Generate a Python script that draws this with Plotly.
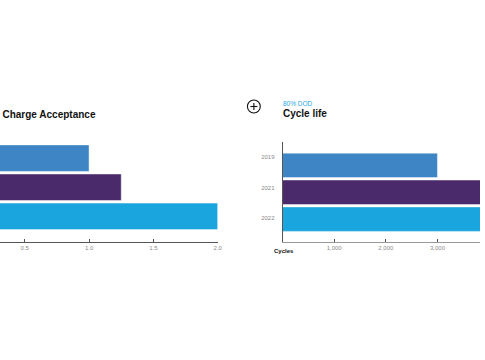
import plotly.graph_objects as go

years = ["2019", "2021", "2022"]
dca_values = [1.0, 1.25, 2.0]
cycle_values = [3000, 4500, 5000]
cycle_ticks = [1000, 2000, 3000]
bar_colors = ["#3e85c6", "#4a2a6a", "#1ba5df"]
dca_title = "Dynamic Charge Acceptance"
cycle_title = "Cycle life"
cycle_subtitle = "80% DOD"
cycle_axis_label = "Cycles"

W, H = 485, 360
def px(x): return x / W
def py(y): return 1 - y / H

bar_line = dict(color="rgba(255,255,255,0.45)", width=1)
fig = go.Figure()
fig.add_trace(go.Bar(x=dca_values, y=years, orientation="h", xaxis="x", yaxis="y",
                     marker=dict(color=bar_colors, line=bar_line),
                     hoverinfo="skip", showlegend=False))
fig.add_trace(go.Bar(x=cycle_values, y=years, orientation="h", xaxis="x2", yaxis="y2",
                     marker=dict(color=bar_colors, line=bar_line),
                     hoverinfo="skip", showlegend=False))
# label-only axis for the year labels of the right chart
fig.add_trace(go.Scatter(x=[None] * len(years), y=years, xaxis="x2", yaxis="y3",
                         mode="markers", hoverinfo="skip", showlegend=False))

FONT = "Liberation Sans, Arial, sans-serif"
tickfont = dict(family=FONT, size=6, color="#8a8a8a")

fig.update_layout(
    width=W, height=H, autosize=False, margin=dict(l=0, r=0, t=0, b=0),
    paper_bgcolor="white", plot_bgcolor="white", bargap=0.09,
    xaxis=dict(domain=[0, px(220)], range=[0.3077, 2.0], dtick=0.5, tick0=0, tickformat=".1f",
               showgrid=False, zeroline=False, showline=True, linecolor="#555", linewidth=1.2,
               ticks="inside", ticklen=3, tickcolor="#555", tickfont=tickfont, anchor="y"),
    yaxis=dict(domain=[py(242), py(132.5)], range=[2.88, -0.88], type="category",
               categoryorder="array", categoryarray=years,
               showgrid=False, zeroline=False, showline=False, showticklabels=False, anchor="x"),
    xaxis2=dict(domain=[px(285.5), 1.0], range=[0, 3824], tickvals=cycle_ticks, tickformat=",",
                showgrid=False, zeroline=False, showline=True, linecolor="#999", linewidth=1.2,
                ticks="inside", ticklen=3, tickcolor="#555", tickfont=tickfont, anchor="y2"),
    yaxis2=dict(domain=[py(242), py(142)], range=[2.85, -0.87], type="category",
                categoryorder="array", categoryarray=years,
                showgrid=False, zeroline=False, showline=True, linecolor="#555", linewidth=1.2,
                ticks="", showticklabels=False, anchor="x2"),
    yaxis3=dict(overlaying="y2", anchor="x2", side="left", range=[2.79, -0.49], type="category",
                categoryorder="array", categoryarray=years,
                showgrid=False, zeroline=False, showline=False, ticks="",
                ticklabelstandoff=7, tickfont=tickfont),
)

fig.add_annotation(text=f"<b>{dca_title}</b>", xref="paper", yref="paper", x=px(99.5), y=py(115),
                   xanchor="right", yanchor="middle", showarrow=False,
                   font=dict(family=FONT, size=10, color="#111"))
fig.add_annotation(text=f"<b>{cycle_title}</b>", xref="paper", yref="paper", x=px(284), y=py(113),
                   xanchor="left", yanchor="middle", showarrow=False,
                   font=dict(family=FONT, size=10, color="#111"))
fig.add_annotation(text=cycle_subtitle, xref="paper", yref="paper", x=px(284), y=py(103),
                   xanchor="left", yanchor="middle", showarrow=False,
                   font=dict(family=FONT, size=6.5, color="#29a8e0"))
fig.add_annotation(text=f"<b>{cycle_axis_label}</b>", xref="paper", yref="paper", x=px(286.5), y=py(251),
                   xanchor="center", yanchor="middle", showarrow=False,
                   font=dict(family=FONT, size=6, color="#111"))

# circled plus icon
cx, cy, r = 256.5, 106.5, 6.5
icon = dict(color="#111", width=1.1)
fig.add_shape(type="circle", xref="paper", yref="paper",
              x0=px(cx - r), x1=px(cx + r), y0=py(cy + r), y1=py(cy - r), line=icon)
fig.add_shape(type="line", xref="paper", yref="paper",
              x0=px(cx - 3.5), x1=px(cx + 3.5), y0=py(cy), y1=py(cy), line=icon)
fig.add_shape(type="line", xref="paper", yref="paper",
              x0=px(cx), x1=px(cx), y0=py(cy - 3.5), y1=py(cy + 3.5), line=icon)

fig.write_html("out.html", config={"displayModeBar": False, "responsive": False},
               post_script=("document.documentElement.style.overflow='hidden';"
                            "document.body.style.margin='0';document.body.style.overflow='hidden';"))
